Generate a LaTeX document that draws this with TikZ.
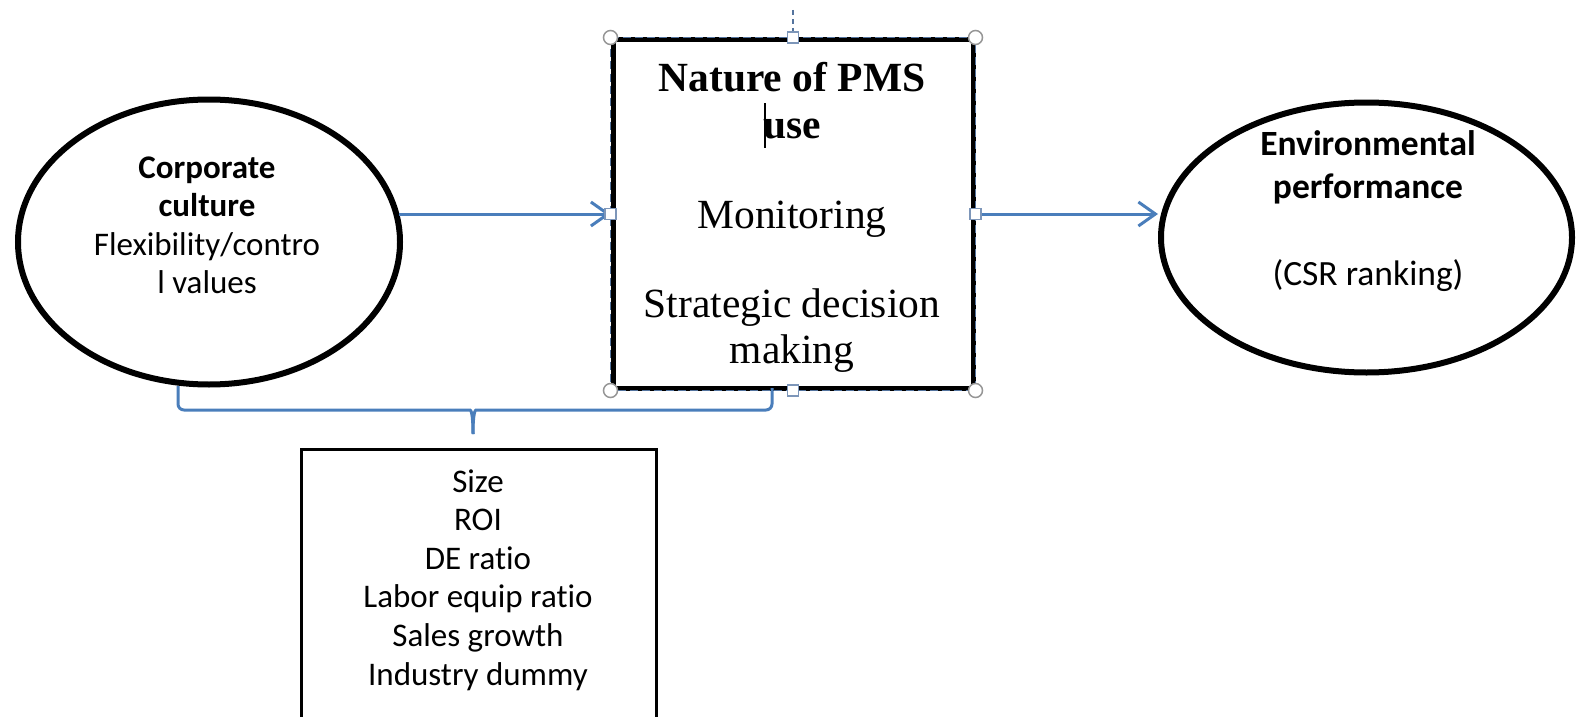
\documentclass[tikz,border=0pt]{standalone}
\usepackage{fontspec}
\setmainfont{Carlito}[Ligatures={NoCommon}]
\newfontfamily\tnr{Liberation Serif}
\usetikzlibrary{arrows.meta,shapes.geometric}
\definecolor{linkblue}{RGB}{74,126,187}
\definecolor{selblue}{RGB}{84,116,158}
\definecolor{handlegray}{RGB}{150,150,150}
\definecolor{handleblue}{RGB}{125,150,185}

\begin{document}
\begin{tikzpicture}[x=1pt,y=-1pt,
  blob/.style={ellipse, draw=black, line width=6pt, inner sep=0pt},
  framebox/.style={rectangle, draw=black, line width=5pt, inner sep=0pt},
  ctrlbox/.style={rectangle, draw=black, line width=3pt, inner sep=0pt},
  link/.style={draw=linkblue, line width=3pt,
    -{Straight Barb[length=17pt,width=24pt,line width=3pt]}},
  bracestyle/.style={draw=linkblue, line width=3pt},
  sanstext/.style={anchor=base, inner sep=0pt, font=\fontsize{33}{39}\selectfont},
  bigsans/.style={anchor=base, inner sep=0pt, font=\fontsize{35.5}{44}\selectfont},
  serifline/.style={anchor=base, inner sep=0pt, font=\tnr\fontsize{41.5}{47}\selectfont},
  sqhandle/.style={rectangle, draw=handleblue, fill=white, line width=1.5pt,
    minimum size=11pt, inner sep=0pt},
  cornerhandle/.style={circle, draw=handlegray, fill=white, line width=1.5pt,
    minimum size=14pt, inner sep=0pt},
]
\useasboundingbox (0,0) rectangle (1576,717);

% main shapes
\node[blob, minimum width=382pt, minimum height=285pt] (cc) at (209,242) {};
\node[blob, minimum width=411pt, minimum height=270pt] (env) at (1366.5,237.5) {};
\node[framebox, minimum width=360pt, minimum height=348pt] (pms) at (793,214) {};
\node[ctrlbox, minimum width=355pt, minimum height=280pt] (ctl) at (478.5,589) {};

% corporate culture
\node[sanstext] (cc1) at (207,178) {\textbf{Corporate}};
\node[sanstext] (cc2) at (207,216.5) {\textbf{culture}};
\node[sanstext] (cc3) at (207,255) {Flexibility/contro};
\node[sanstext] (cc4) at (207,293.5) {l values};

% environmental performance
\node[bigsans] (env1) at (1368,155) {\textbf{Environmental}};
\node[bigsans] (env2) at (1368,198) {\textbf{performance}};
\node[bigsans] (env3) at (1368,285) {(CSR ranking)};

% nature of PMS use
\node[serifline] (p1) at (792,92) {\textbf{Nature of PMS}};
\node[serifline] (p2) at (792,138) {\textbf{use}};
\node[serifline] (p3) at (792,228) {Monitoring};
\node[serifline] (p4) at (792,317) {Strategic decision};
\node[serifline] (p5) at (792,363) {making};
\draw[line width=2.2pt] (765,103) -- (765,148);

% control variables
\foreach \t [count=\i] in {Size,ROI,DE ratio,Labor equip ratio,Sales growth,Industry dummy}
  \node[sanstext] (ctl\i) at (478,{492+38.6*(\i-1)}) {\t};

% connectors
\draw[link] ([xshift=-4pt]pms.west -| cc.east) -- (pms.west);
\draw[link] (pms.east) -- (pms.east -| env.west);

% brace joining the two shapes above the control box
\coordinate (bl) at (178,386);
\coordinate (br) at (772,388);
\coordinate (bt) at (473,434);
\draw[bracestyle, rounded corners=6pt] (bl) |- (464,410) .. controls (471,410) and (473,414) .. (bt);
\draw[bracestyle, rounded corners=6pt] (br) |- (482,410) .. controls (475,410) and (473,414) .. (bt);

% selection outline and handles of the middle box
\draw[selblue, line width=1.5pt, dash pattern=on 8pt off 4pt] (pms.north west) rectangle (pms.south east);
\draw[selblue, line width=1.5pt, dash pattern=on 5pt off 4pt] (793,10) -- (pms.north);
\foreach \a [count=\i] in {north west,north east,south west,south east}
  \node[cornerhandle] (hc\i) at (pms.\a) {};
\foreach \a [count=\i] in {north,south,west,east}
  \node[sqhandle] (hs\i) at (pms.\a) {};
\end{tikzpicture}
\end{document}
